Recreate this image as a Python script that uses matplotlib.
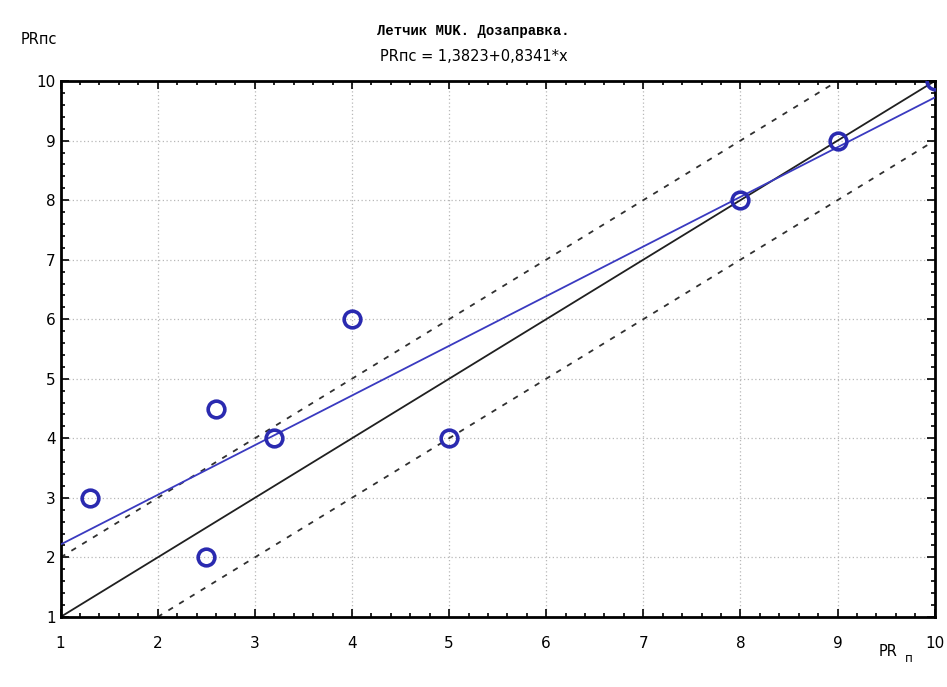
import matplotlib
matplotlib.use("Agg")
import matplotlib.pyplot as plt
import numpy as np
from matplotlib.ticker import AutoMinorLocator

# Data
pr_n = [1.3, 2.5, 2.6, 3.2, 4.0, 5.0, 8.0, 9.0, 10.0]
pr_ps = [3.0, 2.0, 4.5, 4.0, 6.0, 4.0, 8.0, 9.0, 10.0]
intercept = 1.3823
slope = 0.8341
band = 1.0
xticks = [1, 2, 3, 4, 5, 6, 7, 8, 9, 10]
yticks = [1, 2, 3, 4, 5, 6, 7, 8, 9, 10]

fig = plt.figure(figsize=(9.47, 6.87), dpi=100)
ax = fig.add_axes([0.064, 0.102, 0.923, 0.780])

xs = np.array([1, 10])
ax.plot(xs, xs, color="#202020", lw=1.3, zorder=2)
ax.plot(xs, xs + band, color="#303030", lw=1.3, ls=(0, (3, 4)), zorder=2)
ax.plot(xs, xs - band, color="#303030", lw=1.3, ls=(0, (3, 4)), zorder=2)
ax.plot(xs, intercept + slope * xs, color="#3a3ac0", lw=1.3, zorder=3)
ax.plot(pr_n, pr_ps, ls="none", marker="o", ms=12, mfc="none",
        mec="#2a2ab0", mew=2.6, zorder=4, clip_on=True)

ax.set_xlim(1, 10)
ax.set_ylim(1, 10)
ax.set_xticks(xticks)
ax.set_yticks(yticks)
ax.xaxis.set_minor_locator(AutoMinorLocator(5))
ax.yaxis.set_minor_locator(AutoMinorLocator(5))
ax.tick_params(which="both", direction="in", top=True, right=True,
               labelsize=11, width=1.2)
ax.tick_params(which="major", length=6)
ax.tick_params(which="minor", length=3)
ax.tick_params(axis="x", pad=14)
for s in ax.spines.values():
    s.set_linewidth(2)
ax.grid(True, which="major", color="#b8b8b8", ls=(0, (1, 2)), lw=0.9)

fig.text(0.5, 0.955, "Летчик MUK. Дозаправка.", ha="center", va="center",
         fontsize=10, family="Liberation Mono", weight="bold")
fig.text(0.5, 0.918, "PRпс = 1,3823+0,8341*x", ha="center", va="center",
         fontsize=10.5)
fig.text(0.022, 0.942, "PRпс", ha="left", va="center", fontsize=10.5)
fig.text(0.928, 0.052, "PR", ha="left", va="center", fontsize=10.5)
fig.text(0.955, 0.042, "п", ha="left", va="center", fontsize=8.5)

fig.savefig("out.png", dpi=100)
